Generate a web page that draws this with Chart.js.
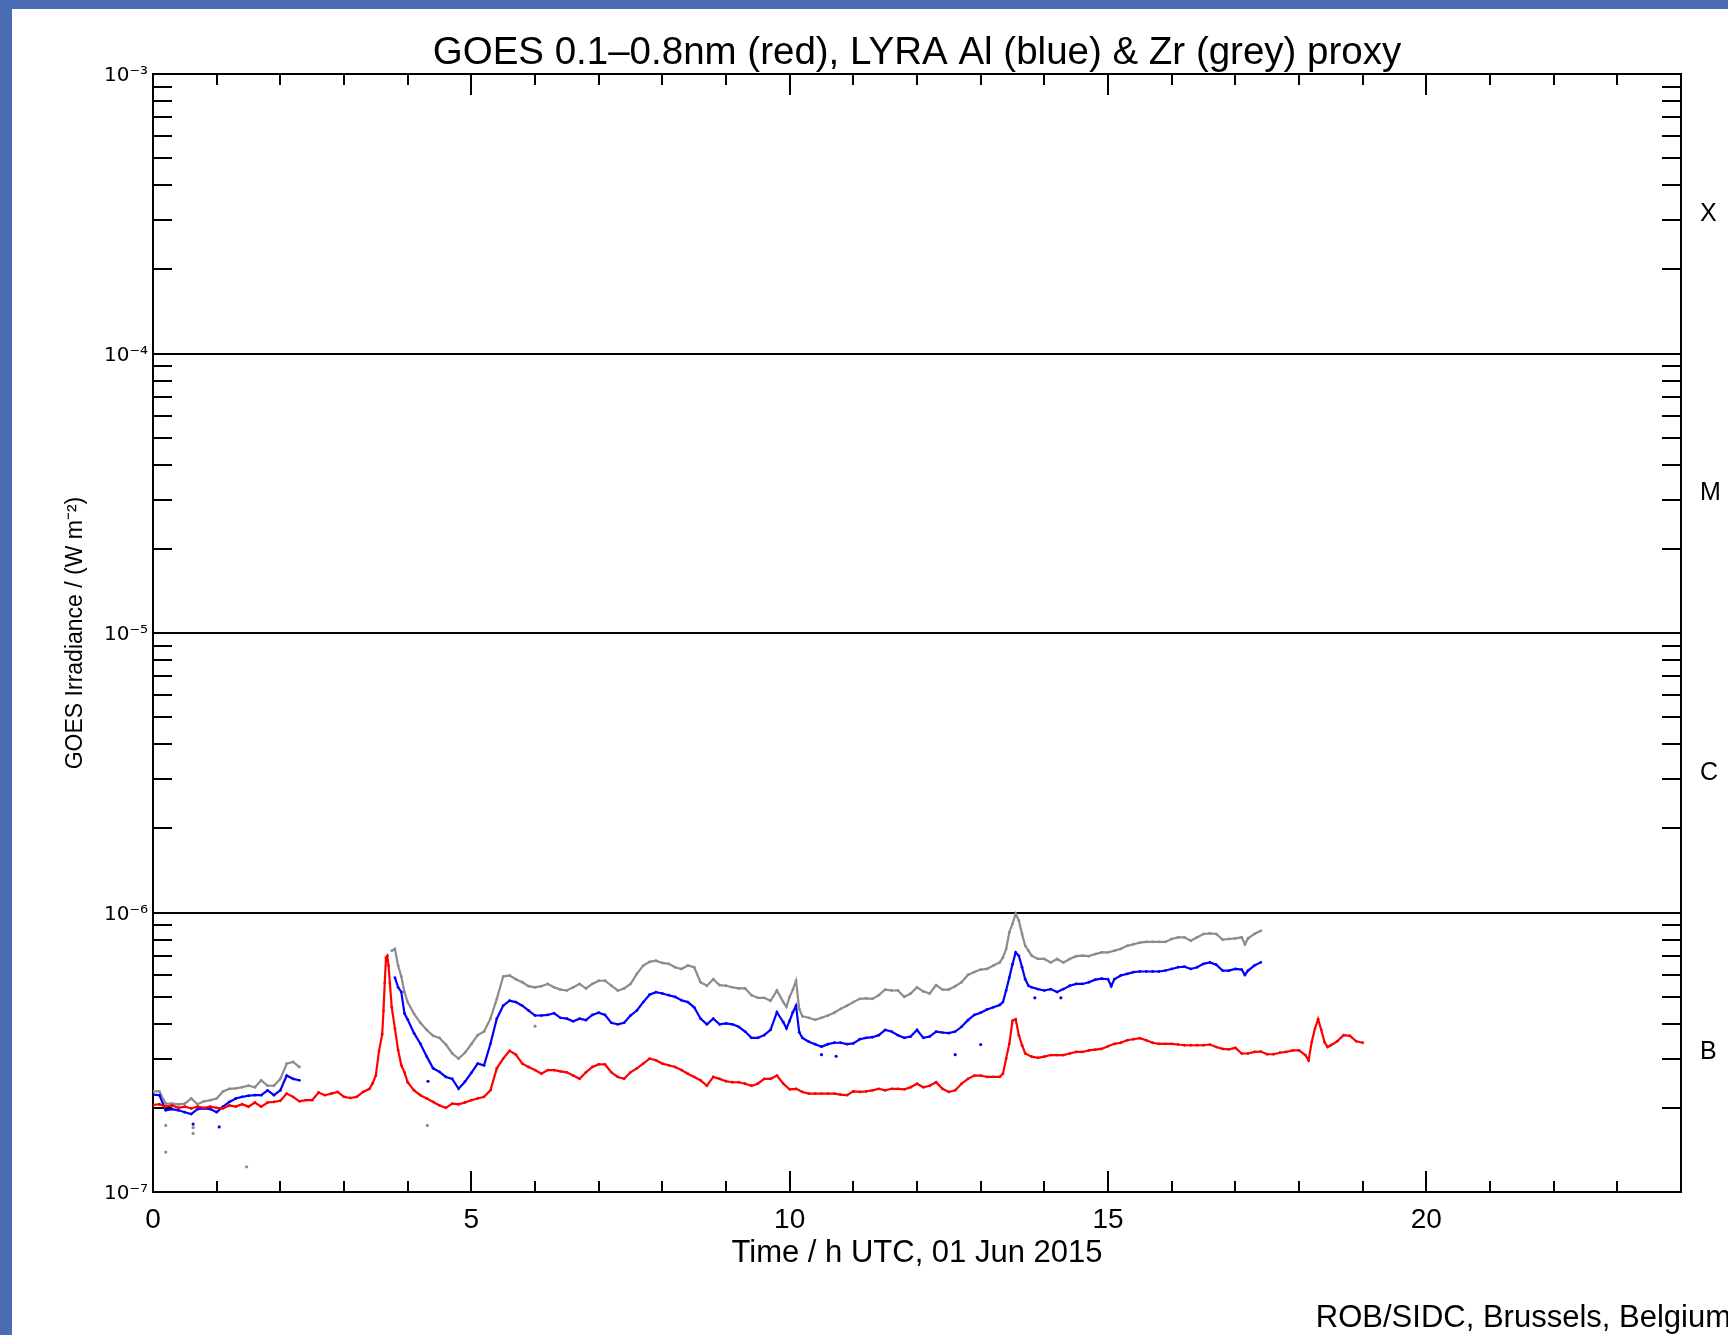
<!DOCTYPE html>
<html lang="en"><head><meta charset="utf-8">
<title>GOES / LYRA proxy - 01 Jun 2015</title>
<script src="https://cdn.jsdelivr.net/npm/chart.js"></script>
<style>
  body { margin: 0; background: #fff; }
  .wrap { position: relative; width: 1728px; height: 1335px; }
  .band-top { position: absolute; left: 0; top: 0; width: 1728px; height: 9px; background: #4a6cb4; }
  .band-left { position: absolute; left: 0; top: 0; width: 12px; height: 1335px; background: #4a6cb4; }
  canvas { position: absolute; left: 0; top: 0; }
</style>
</head>
<body>
<div class="wrap">
  <canvas id="goesChart" width="1728" height="1335"></canvas>
  <div class="band-top"></div>
  <div class="band-left"></div>
</div>

<script>
// flux values are in units of 1e-7 W m^-2, times in hours UTC

// GOES 0.1-0.8nm (red)
const redHours = [
  0, 0.1, 0.2, 0.3, 0.4, 0.5, 0.6, 0.7, 0.8, 0.9,
  1.0, 1.1, 1.2, 1.3, 1.4, 1.5, 1.6, 1.7, 1.8, 1.9,
  2.0, 2.1, 2.2, 2.3, 2.4, 2.5, 2.6, 2.7, 2.8, 2.9,
  3.0, 3.1, 3.2, 3.3, 3.4, 3.45, 3.5, 3.55, 3.6, 3.62,
  3.64, 3.66, 3.68, 3.7, 3.72, 3.75, 3.8, 3.85, 3.9, 3.95,
  4.0, 4.1, 4.2, 4.3, 4.4, 4.5, 4.6, 4.7, 4.8, 4.9,
  5.0, 5.1, 5.2, 5.3, 5.4, 5.5, 5.6, 5.7, 5.8, 5.9,
  6.0, 6.1, 6.2, 6.3, 6.4, 6.5, 6.6, 6.7, 6.8, 6.9,
  7.0, 7.1, 7.2, 7.3, 7.4, 7.5, 7.6, 7.7, 7.8, 7.9,
  8.0, 8.1, 8.2, 8.3, 8.4, 8.5, 8.6, 8.7, 8.8, 8.9,
  9.0, 9.1, 9.2, 9.3, 9.4, 9.5, 9.6, 9.7, 9.8, 9.9,
  10.0, 10.1, 10.2, 10.3, 10.4, 10.5, 10.6, 10.7, 10.8, 10.9,
  11.0, 11.1, 11.2, 11.3, 11.4, 11.5, 11.6, 11.7, 11.8, 11.9,
  12.0, 12.1, 12.2, 12.3, 12.4, 12.5, 12.6, 12.7, 12.8, 12.9,
  13.0, 13.1, 13.2, 13.3, 13.35, 13.4, 13.45, 13.5, 13.55, 13.6,
  13.65, 13.7, 13.8, 13.9, 14.0, 14.1, 14.2, 14.3, 14.4, 14.5,
  14.6, 14.7, 14.8, 14.9, 15.0, 15.1, 15.2, 15.3, 15.4, 15.5,
  15.6, 15.7, 15.8, 15.9, 16.0, 16.1, 16.2, 16.3, 16.4, 16.5,
  16.6, 16.7, 16.8, 16.9, 17.0, 17.1, 17.2, 17.3, 17.4, 17.5,
  17.6, 17.7, 17.8, 17.9, 18.0, 18.1, 18.15, 18.2, 18.25, 18.3,
  18.35, 18.4, 18.45, 18.5, 18.6, 18.7, 18.8, 18.9, 19.0
];
const redFlux = [
  2.05, 2.06, 2.02, 2.04, 2.00, 2.02, 1.99, 2.02, 2.00, 2.02,
  2.00, 1.99, 2.04, 2.02, 2.06, 2.02, 2.09, 2.02, 2.09, 2.10,
  2.12, 2.25, 2.19, 2.11, 2.13, 2.13, 2.27, 2.22, 2.25, 2.28,
  2.19, 2.17, 2.19, 2.28, 2.34, 2.45, 2.61, 3.20, 3.67, 4.45,
  5.60, 6.90, 7.00, 6.46, 5.60, 4.58, 3.84, 3.22, 2.84, 2.68,
  2.47, 2.31, 2.22, 2.16, 2.10, 2.04, 2.00, 2.07, 2.06, 2.09,
  2.13, 2.16, 2.19, 2.31, 2.77, 3.00, 3.20, 3.10, 2.88, 2.80,
  2.73, 2.65, 2.73, 2.73, 2.70, 2.68, 2.61, 2.54, 2.68, 2.80,
  2.86, 2.86, 2.68, 2.58, 2.54, 2.68, 2.77, 2.88, 3.00, 2.96,
  2.88, 2.84, 2.80, 2.73, 2.65, 2.58, 2.51, 2.40, 2.58, 2.54,
  2.49, 2.47, 2.47, 2.44, 2.40, 2.44, 2.54, 2.54, 2.61, 2.44,
  2.33, 2.34, 2.28, 2.25, 2.25, 2.25, 2.25, 2.25, 2.23, 2.22,
  2.29, 2.28, 2.29, 2.31, 2.34, 2.31, 2.34, 2.34, 2.33, 2.37,
  2.44, 2.37, 2.40, 2.47, 2.34, 2.28, 2.31, 2.44, 2.54, 2.61,
  2.61, 2.58, 2.58, 2.58, 2.65, 3.00, 3.39, 4.10, 4.15, 3.64,
  3.35, 3.13, 3.05, 3.02, 3.05, 3.09, 3.09, 3.09, 3.13, 3.17,
  3.17, 3.21, 3.23, 3.25, 3.32, 3.39, 3.42, 3.49, 3.52, 3.55,
  3.49, 3.42, 3.39, 3.39, 3.39, 3.37, 3.35, 3.35, 3.35, 3.35,
  3.37, 3.30, 3.25, 3.24, 3.28, 3.13, 3.13, 3.17, 3.18, 3.11,
  3.11, 3.15, 3.17, 3.21, 3.21, 3.09, 2.96, 3.44, 3.84, 4.15,
  3.80, 3.44, 3.30, 3.35, 3.46, 3.64, 3.62, 3.46, 3.42
];

// LYRA Al proxy (blue), null marks the data gap
const alHours = [
  0, 0.1, 0.2, 0.3, 0.4, 0.5, 0.6, 0.7, 0.8, 0.9,
  1.0, 1.1, 1.2, 1.3, 1.4, 1.5, 1.6, 1.7, 1.8, 1.9,
  2.0, 2.1, 2.2, 2.3, 3.0, 3.8, 3.85, 3.9, 3.95, 4.0,
  4.1, 4.2, 4.3, 4.4, 4.5, 4.6, 4.7, 4.8, 4.9, 5.0,
  5.1, 5.2, 5.3, 5.4, 5.5, 5.6, 5.7, 5.8, 5.9, 6.0,
  6.1, 6.2, 6.3, 6.4, 6.5, 6.6, 6.7, 6.8, 6.9, 7.0,
  7.1, 7.2, 7.3, 7.4, 7.5, 7.6, 7.7, 7.8, 7.9, 8.0,
  8.1, 8.2, 8.3, 8.4, 8.5, 8.6, 8.7, 8.8, 8.9, 9.0,
  9.1, 9.2, 9.3, 9.4, 9.5, 9.6, 9.7, 9.8, 9.9, 9.95,
  10.0, 10.05, 10.1, 10.15, 10.2, 10.3, 10.4, 10.5, 10.6, 10.7,
  10.8, 10.9, 11.0, 11.1, 11.2, 11.3, 11.4, 11.5, 11.6, 11.7,
  11.8, 11.9, 12.0, 12.1, 12.2, 12.3, 12.4, 12.5, 12.6, 12.7,
  12.8, 12.9, 13.0, 13.1, 13.2, 13.3, 13.35, 13.4, 13.45, 13.5,
  13.55, 13.6, 13.65, 13.7, 13.75, 13.8, 13.9, 14.0, 14.1, 14.2,
  14.3, 14.4, 14.5, 14.6, 14.7, 14.8, 14.9, 15.0, 15.05, 15.1,
  15.2, 15.3, 15.4, 15.5, 15.6, 15.7, 15.8, 15.9, 16.0, 16.1,
  16.2, 16.3, 16.4, 16.5, 16.6, 16.7, 16.8, 16.9, 17.0, 17.1,
  17.15, 17.2, 17.3, 17.4
];
const alFlux = [
  2.23, 2.22, 1.96, 1.98, 1.96, 1.93, 1.90, 1.98, 1.99, 1.98,
  1.93, 2.02, 2.10, 2.16, 2.19, 2.21, 2.22, 2.22, 2.31, 2.22,
  2.31, 2.61, 2.54, 2.51, null, 5.85, 5.40, 5.20, 4.35, 4.14,
  3.70, 3.39, 3.05, 2.77, 2.69, 2.58, 2.54, 2.34, 2.48, 2.67,
  2.88, 2.84, 3.39, 4.17, 4.64, 4.84, 4.78, 4.64, 4.46, 4.28,
  4.28, 4.30, 4.36, 4.20, 4.17, 4.08, 4.17, 4.12, 4.30, 4.38,
  4.30, 4.03, 3.98, 4.03, 4.28, 4.46, 4.78, 5.08, 5.19, 5.13,
  5.06, 4.99, 4.85, 4.78, 4.58, 4.17, 3.98, 4.17, 3.98, 4.01,
  3.98, 3.90, 3.75, 3.56, 3.56, 3.64, 3.80, 4.40, 4.05, 3.85,
  4.10, 4.40, 4.64, 3.73, 3.56, 3.45, 3.38, 3.31, 3.38, 3.42,
  3.42, 3.38, 3.40, 3.52, 3.56, 3.58, 3.64, 3.80, 3.75, 3.64,
  3.56, 3.60, 3.80, 3.56, 3.60, 3.75, 3.72, 3.70, 3.75, 3.90,
  4.12, 4.30, 4.38, 4.50, 4.58, 4.67, 4.78, 5.26, 5.85, 6.53,
  7.20, 7.00, 6.37, 5.77, 5.47, 5.40, 5.32, 5.26, 5.32, 5.19,
  5.32, 5.47, 5.55, 5.55, 5.63, 5.75, 5.80, 5.77, 5.45, 5.77,
  5.95, 6.03, 6.12, 6.15, 6.15, 6.15, 6.15, 6.20, 6.28, 6.37,
  6.40, 6.28, 6.37, 6.55, 6.63, 6.51, 6.20, 6.20, 6.28, 6.25,
  5.98, 6.20, 6.46, 6.63
];

// LYRA Zr proxy (grey), null marks the data gap
const zrHours = [
  0, 0.1, 0.2, 0.3, 0.4, 0.5, 0.6, 0.7, 0.8, 0.9,
  1.0, 1.1, 1.2, 1.3, 1.4, 1.5, 1.6, 1.7, 1.8, 1.9,
  2.0, 2.1, 2.2, 2.3, 3.0, 3.75, 3.8, 3.85, 3.9, 3.95,
  4.0, 4.1, 4.2, 4.3, 4.4, 4.5, 4.6, 4.7, 4.8, 4.9,
  5.0, 5.1, 5.2, 5.3, 5.4, 5.5, 5.6, 5.7, 5.8, 5.9,
  6.0, 6.1, 6.2, 6.3, 6.4, 6.5, 6.6, 6.7, 6.8, 6.9,
  7.0, 7.1, 7.2, 7.3, 7.4, 7.5, 7.6, 7.7, 7.8, 7.9,
  8.0, 8.1, 8.2, 8.3, 8.4, 8.5, 8.6, 8.7, 8.8, 8.9,
  9.0, 9.1, 9.2, 9.3, 9.4, 9.5, 9.6, 9.7, 9.8, 9.9,
  9.95, 10.0, 10.05, 10.1, 10.15, 10.2, 10.3, 10.4, 10.5, 10.6,
  10.7, 10.8, 10.9, 11.0, 11.1, 11.2, 11.3, 11.4, 11.5, 11.6,
  11.7, 11.8, 11.9, 12.0, 12.1, 12.2, 12.3, 12.4, 12.5, 12.6,
  12.7, 12.8, 12.9, 13.0, 13.1, 13.2, 13.3, 13.35, 13.4, 13.45,
  13.5, 13.55, 13.6, 13.65, 13.7, 13.75, 13.8, 13.9, 14.0, 14.1,
  14.2, 14.3, 14.4, 14.5, 14.6, 14.7, 14.8, 14.9, 15.0, 15.1,
  15.2, 15.3, 15.4, 15.5, 15.6, 15.7, 15.8, 15.9, 16.0, 16.1,
  16.2, 16.3, 16.4, 16.5, 16.6, 16.7, 16.8, 16.9, 17.0, 17.1,
  17.15, 17.2, 17.3, 17.4
];
const zrFlux = [
  2.29, 2.29, 2.07, 2.07, 2.06, 2.07, 2.16, 2.06, 2.11, 2.13,
  2.16, 2.29, 2.34, 2.35, 2.37, 2.40, 2.37, 2.51, 2.40, 2.40,
  2.54, 2.88, 2.92, 2.80, null, 7.30, 7.41, 6.46, 5.90, 5.19,
  4.78, 4.34, 4.03, 3.80, 3.62, 3.56, 3.37, 3.13, 3.00, 3.15,
  3.38, 3.64, 3.75, 4.17, 4.91, 5.90, 5.95, 5.77, 5.63, 5.45,
  5.40, 5.45, 5.55, 5.40, 5.30, 5.26, 5.40, 5.55, 5.35, 5.55,
  5.70, 5.70, 5.47, 5.26, 5.35, 5.55, 6.03, 6.46, 6.66, 6.72,
  6.60, 6.55, 6.37, 6.28, 6.46, 6.37, 5.63, 5.47, 5.77, 5.50,
  5.47, 5.40, 5.35, 5.35, 5.06, 4.95, 4.95, 4.83, 5.26, 4.78,
  4.60, 4.99, 5.30, 5.70, 4.52, 4.25, 4.20, 4.13, 4.20, 4.28,
  4.38, 4.52, 4.64, 4.78, 4.91, 4.93, 4.91, 5.06, 5.30, 5.26,
  5.26, 4.99, 5.13, 5.40, 5.22, 5.13, 5.50, 5.30, 5.30, 5.45,
  5.63, 5.98, 6.12, 6.25, 6.28, 6.46, 6.63, 6.90, 7.41, 8.50,
  9.10, 9.90, 9.35, 8.38, 7.60, 7.30, 7.01, 6.82, 6.82, 6.63,
  6.82, 6.63, 6.82, 6.98, 7.01, 6.98, 7.10, 7.20, 7.20, 7.30,
  7.41, 7.60, 7.70, 7.80, 7.85, 7.85, 7.85, 7.85, 8.04, 8.15,
  8.15, 7.92, 8.15, 8.38, 8.42, 8.38, 8.00, 8.04, 8.08, 8.15,
  7.70, 8.08, 8.38, 8.60
];

// stray single samples
const alOutHours = [0.63, 1.04, 4.32, 10.5, 10.73, 12.6, 13.0, 13.85, 14.26];
const alOutFlux  = [1.75, 1.71, 2.49, 3.10, 3.06, 3.10, 3.37, 4.95, 4.95];
const zrOutHours = [0.2, 0.2, 0.63, 0.63, 1.47, 4.31, 6.0];
const zrOutFlux  = [1.73, 1.39, 1.70, 1.62, 1.23, 1.73, 3.92];

// axes
const decadeExps = [-7, -6, -5, -4, -3];
const decadeLabels = ['10⁻⁷', '10⁻⁶', '10⁻⁵', '10⁻⁴', '10⁻³'];
const minorMults = [2, 3, 4, 5, 6, 7, 8, 9];
const classLetters = ['B', 'C', 'M', 'X'];
const classPos = [3.16e-7, 3.16e-6, 3.16e-5, 3.16e-4];
const hourLabels = [0, 5, 10, 15, 20];

const chartTitle = 'GOES 0.1–0.8nm (red), LYRA Al (blue) & Zr (grey) proxy';
const credit = 'ROB/SIDC, Brussels, Belgium';

const FONT = 'Liberation Sans';
Chart.defaults.font.family = FONT;
Chart.defaults.color = '#000';

function toPoints(hours, flux) {
  return hours.map((h, i) => ({ x: h, y: flux[i] == null ? null : flux[i] * 1e-7 }));
}

function lineSet(hours, flux, color) {
  return {
    data: toPoints(hours, flux),
    showLine: true,
    spanGaps: false,
    borderColor: color,
    backgroundColor: color,
    borderWidth: 2.2,
    pointRadius: 1.4,
    pointBorderWidth: 0
  };
}

function dotSet(hours, flux, color) {
  return {
    data: toPoints(hours, flux),
    showLine: false,
    borderColor: color,
    backgroundColor: color,
    pointRadius: 1.6,
    pointBorderWidth: 0
  };
}

// frame, decade lines, inward ticks, title and credit line
const frame = {
  id: 'frame',
  beforeDatasetsDraw(chart) {
    const { ctx, chartArea: a, scales: { x, y } } = chart;
    ctx.save();
    ctx.strokeStyle = '#000';
    ctx.lineWidth = 2;
    ctx.beginPath();
    y.ticks.forEach(t => {
      const py = Math.round(y.getPixelForValue(t.value));
      if (t.major) {
        if (t.value > y.min * 1.01 && t.value < y.max * 0.99) {
          ctx.moveTo(a.left, py); ctx.lineTo(a.right, py);
        }
      } else {
        ctx.moveTo(a.left, py); ctx.lineTo(a.left + 19, py);
        ctx.moveTo(a.right, py); ctx.lineTo(a.right - 19, py);
      }
    });
    x.ticks.forEach(t => {
      if (t.value <= x.min || t.value >= x.max) return;
      const px = Math.round(x.getPixelForValue(t.value));
      const len = t.value % 5 === 0 ? 21 : 11;
      ctx.moveTo(px, a.bottom); ctx.lineTo(px, a.bottom - len);
      ctx.moveTo(px, a.top); ctx.lineTo(px, a.top + len);
    });
    ctx.stroke();
    ctx.strokeRect(a.left, a.top, a.width, a.height);

    ctx.fillStyle = '#000';
    ctx.textAlign = 'center';
    ctx.textBaseline = 'middle';
    ctx.font = '38.5px "' + FONT + '"';
    ctx.fillText(chartTitle, (a.left + a.right) / 2, 53);
    ctx.restore();
  },
  afterDraw(chart) {
    const ctx = chart.ctx;
    ctx.save();
    ctx.font = '31px "' + FONT + '"';
    ctx.fillStyle = '#000';
    ctx.textAlign = 'right';
    ctx.textBaseline = 'middle';
    ctx.fillText(credit, 1731, 1318);
    ctx.restore();
  }
};

new Chart(document.getElementById('goesChart'), {
  type: 'scatter',
  data: {
    datasets: [
      lineSet(redHours, redFlux, '#ff0000'),
      lineSet(alHours, alFlux, '#0000ff'),
      lineSet(zrHours, zrFlux, '#8c8c8c'),
      dotSet(alOutHours, alOutFlux, '#0000ff'),
      dotSet(zrOutHours, zrOutFlux, '#8c8c8c')
    ]
  },
  options: {
    responsive: false,
    animation: false,
    layout: { padding: { top: 74, left: 58, right: 0, bottom: 0 } },
    plugins: {
      legend: { display: false },
      tooltip: { enabled: false },
      title: { display: false }
    },
    scales: {
      x: {
        type: 'linear',
        min: 0,
        max: 24,
        grid: { display: false, drawTicks: false },
        border: { display: false },
        ticks: {
          stepSize: 1,
          autoSkip: false,
          maxRotation: 0,
          padding: 11,
          font: { size: 28 },
          callback: v => hourLabels.includes(v) ? String(v) : ''
        },
        title: {
          display: true,
          text: 'Time / h UTC, 01 Jun 2015',
          font: { size: 31 },
          padding: { top: 0, bottom: 63 }
        },
        afterFit: s => { s.height = 143; }
      },
      y: {
        type: 'logarithmic',
        position: 'left',
        min: 1e-7,
        max: 1e-3,
        grid: { display: false, drawTicks: false },
        border: { display: false },
        afterBuildTicks: s => {
          const ticks = [];
          decadeExps.forEach(e => {
            ticks.push({ value: Math.pow(10, e), major: true });
            if (e < -3) minorMults.forEach(m => ticks.push({ value: m * Math.pow(10, e), major: false }));
          });
          s.ticks = ticks;
        },
        ticks: {
          autoSkip: false,
          padding: 5,
          labelOffset: 2,
          font: { size: 20, family: 'DejaVu Sans' },
          callback: (v, i, ticks) => ticks[i].major ? decadeLabels[decadeExps.indexOf(Math.round(Math.log10(v)))] : ''
        },
        title: {
          display: true,
          text: 'GOES Irradiance / (W m⁻²)',
          font: { size: 23 },
          padding: { top: 4, bottom: 4 }
        },
        afterFit: s => { s.width = 95; }
      },
      y2: {
        type: 'logarithmic',
        position: 'right',
        min: 1e-7,
        max: 1e-3,
        grid: { display: false, drawTicks: false },
        border: { display: false },
        afterBuildTicks: s => { s.ticks = classPos.map(v => ({ value: v })); },
        ticks: {
          autoSkip: false,
          padding: 19,
          font: { size: 25 },
          callback: (v, i) => classLetters[i]
        },
        afterFit: s => { s.width = 47; }
      }
    }
  },
  plugins: [frame]
});
</script>
</body>
</html>
